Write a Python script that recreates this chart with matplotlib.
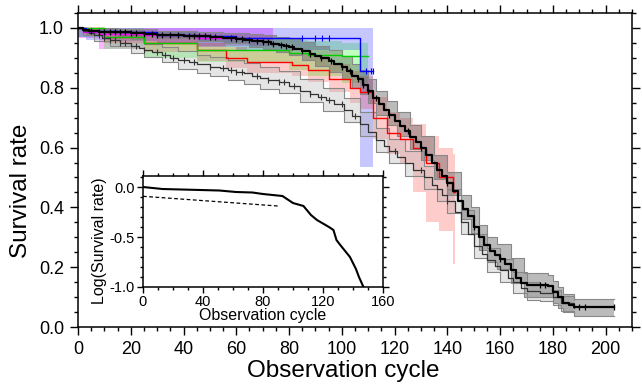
import matplotlib
matplotlib.use('Agg')  # no display
import numpy as np
import matplotlib.pyplot as plt
from matplotlib.ticker import MultipleLocator

plt.rcParams['font.family'] = ['Liberation Sans', 'DejaVu Sans']

# main Kaplan-Meier curve (thick black)
black_t = [0, 2, 4, 8, 12, 16, 20, 25, 30, 35, 40, 45, 50, 55, 60, 63, 66, 70, 73, 76, 78, 80, 82, 85, 88,
           90, 92, 95, 97, 100, 102, 104, 106, 108, 110, 112, 114, 116, 118, 120, 122, 124, 126, 128, 130,
           132, 134, 136, 138, 140, 142, 144, 146, 148, 150, 152, 154, 156, 158, 160, 162, 164, 166, 168,
           170, 178, 180, 182, 184, 186, 188, 203]
black_s = [1.0, .993, .99, .988, .986, .985, .983, .981, .978, .976, .974, .972, .97, .967, .963, .96, .957,
           .953, .948, .943, .939, .935, .93, .922, .912, .905, .898, .89, .88, .868, .855, .84, .828, .81,
           .79, .765, .745, .725, .708, .69, .672, .655, .636, .618, .60, .575, .55, .525, .505, .48, .455,
           .42, .395, .37, .335, .30, .275, .255, .24, .228, .21, .19, .165, .148, .14, .138, .118, .10,
           .08, .072, .068, .067]
# its confidence band
black_bt = [0, 3, 15, 30, 45, 55, 65, 70, 75, 80, 85, 90, 95, 100, 104, 107, 110, 113, 117, 121, 126,
            130, 135, 140, 145, 149, 152, 155, 159, 164, 169, 178, 180, 182, 184, 188, 203]
black_up = [1.0, 1.0, .995, .99, .987, .984, .979, .976, .97, .962, .952, .938, .926, .905, .88, .86, .83,
            .79, .755, .72, .676, .64, .575, .52, .44, .40, .342, .302, .277, .232, .18, .175, .155, .135,
            .11, .095, .094]
black_lo = [1.0, .98, .974, .966, .957, .95, .937, .93, .92, .908, .892, .872, .854, .83, .80, .78, .75,
            .71, .675, .64, .596, .56, .495, .44, .36, .316, .258, .218, .193, .148, .10, .10, .08, .065,
            .05, .038, .036]
black_cens = [5, 8, 10, 12, 14, 16, 18, 20, 22, 25, 28, 30, 32, 35, 38, 42, 44, 46, 48, 50, 52, 58, 60, 62,
              65, 68, 70, 72, 74, 77, 79, 81, 85, 88, 92, 96, 100, 103, 106, 108, 110, 113, 118, 125, 130,
              140, 150, 160, 175, 177, 190, 192, 203]

# lower grey curve
grey_t = [0, 2, 4, 6, 9, 12, 16, 20, 23, 25, 28, 32, 35, 38, 42, 45, 50, 54, 57, 60, 63, 66, 69, 72, 76,
          80, 84, 88, 91, 94, 97, 101, 104, 107, 110, 113, 116, 118, 121, 124, 127, 131, 134, 136, 138,
          140, 143, 145, 148, 150, 153, 155, 158, 160, 163, 165, 168, 170, 175, 180, 183, 188]
grey_s = [1.0, .99, .982, .975, .968, .96, .95, .94, .932, .926, .918, .91, .90, .893, .886, .88, .87,
          .865, .86, .854, .848, .84, .832, .827, .82, .805, .79, .778, .768, .758, .745, .726, .705, .68,
          .652, .625, .605, .59, .57, .548, .525, .50, .475, .46, .44, .42, .385, .35, .31, .27, .245,
          .225, .205, .19, .165, .15, .13, .12, .115, .10, .08, .065]
grey_bt = [0, 2, 6, 12, 20, 25, 32, 38, 45, 50, 57, 63, 69, 76, 84, 93, 101, 107, 113, 118, 124, 131, 136,
           140, 145, 150, 155, 160, 165, 170, 175, 180, 183, 188]
grey_up = [1.0, 1.0, .99, .98, .962, .948, .935, .922, .91, .902, .893, .882, .868, .857, .828, .798, .765,
           .72, .665, .63, .59, .54, .50, .46, .39, .31, .265, .228, .185, .15, .14, .125, .105, .09]
grey_lo = [1.0, .975, .958, .94, .917, .903, .885, .864, .85, .838, .826, .813, .796, .783, .752, .722,
           .687, .64, .585, .55, .506, .46, .42, .38, .31, .23, .185, .152, .115, .09, .088, .075, .055, .04]
grey_cens = [8, 10, 12, 14, 16, 18, 22, 25, 30, 33, 36, 40, 44, 50, 55, 58, 60, 62, 68, 72, 76, 78, 82, 88,
             92, 95, 100, 105, 120, 130, 140]

# coloured subgroups
blue_t = [0, 3, 15, 30, 45, 60, 107, 112]
blue_s = [1.0, .99, .985, .978, .972, .965, .855, .855]
blue_up = [1.0, 1.0, 1.0, 1.0, 1.0, 1.0, 1.0, 1.0]
blue_lo = [.97, .96, .955, .945, .935, .925, .535, .535]
blue_cens = [85, 90, 92.5, 95, 109, 111, 112]

green_t = [0, 10, 25, 45, 80, 87, 100, 110]
green_s = [1.0, .97, .95, .925, .915, .91, .905, .905]
green_up = [1.0, 1.0, .985, .97, .96, .955, .95, .95]
green_lo = [.97, .93, .90, .885, .86, .84, .815, .815]

red_t = [0, 10, 25, 45, 56, 64, 81, 87, 95, 103, 107, 112, 117, 122, 127, 132, 137, 142, 143]
red_s = [1.0, .97, .95, .925, .9, .887, .876, .86, .83, .80, .786, .70, .65, .63, .60, .55, .50, .45, .45]
red_up = [1.0, .99, .97, .95, .935, .925, .915, .905, .88, .855, .84, .77, .72, .70, .68, .64, .60, .58, .58]
red_lo = [1.0, .95, .92, .89, .865, .85, .84, .82, .785, .75, .73, .63, .58, .55, .45, .35, .32, .21, .21]

mag_t = [0, 2, 8, 25, 45, 74]
mag_s = [1.0, .985, .98, .975, .965, .965]
mag_up = [1.0, 1.0, 1.0, 1.0, 1.0, 1.0]
mag_lo = [.965, .965, .93, .95, .94, .94]

# inset: log survival and linear fit of the early part
log_t = [0, 13, 51, 62, 73, 80, 93, 100, 107, 112, 116, 124, 127, 129, 131, 138, 142, 144, 147]
log_s = [0.0, -.02, -.035, -.05, -.055, -.07, -.09, -.16, -.19, -.28, -.33, -.40, -.43, -.53, -.57, -.70,
         -.82, -.90, -1.0]
fit_t = [0, 90]
fit_s = [-.093, -.19]


def step_at(t, s, x):
    idx = np.searchsorted(t, x, side='right') - 1
    return np.asarray(s)[idx]


fig = plt.figure(figsize=(6.42, 3.87), dpi=100)
ax = fig.add_axes([0.1215, 0.155, 0.863, 0.8114])

bands = [(mag_t, mag_lo, mag_up, '#ff00ff', 0.3),
         (green_t, green_lo, green_up, '#00ff00', 0.25),
         (blue_t, blue_lo, blue_up, '#0000ff', 0.22),
         (red_t, red_lo, red_up, '#ff0000', 0.2),
         (grey_bt, grey_lo, grey_up, '#aaaaaa', 0.3),
         (black_bt, black_lo, black_up, '#555555', 0.4)]
for t, lo, up, c, a in bands:
    ax.fill_between(t, lo, up, step='post', color=c, alpha=a, lw=0)

for t, lo, up in [(grey_bt, grey_lo, grey_up), (black_bt, black_lo, black_up)]:
    ax.plot(t, lo, drawstyle='steps-post', color='#888888', lw=0.8)
    ax.plot(t, up, drawstyle='steps-post', color='#888888', lw=0.8)

ax.plot(red_t, red_s, drawstyle='steps-post', color='#ff0000', lw=1)
ax.plot(green_t, green_s, drawstyle='steps-post', color='#00cc00', lw=1)
ax.plot(mag_t, mag_s, drawstyle='steps-post', color='#ff00ff', lw=1)
ax.plot(blue_t, blue_s, drawstyle='steps-post', color='#0000ff', lw=1)
ax.plot(blue_cens, step_at(blue_t, blue_s, blue_cens), ls='none', marker='|', ms=4, mew=0.8, color='#0000ff')
ax.plot(grey_t, grey_s, drawstyle='steps-post', color='#333333', lw=0.9)
ax.plot(grey_cens, step_at(grey_t, grey_s, grey_cens), ls='none', marker='|', ms=4, mew=0.8, color='#333333')
ax.plot(black_t, black_s, drawstyle='steps-post', color='black', lw=1.6)
ax.plot(black_cens, step_at(black_t, black_s, black_cens), ls='none', marker='|', ms=4, mew=0.9, color='black')

ax.set_xlim(0, 210)
ax.set_ylim(0, 1.05)
ax.xaxis.set_major_locator(MultipleLocator(20))
ax.xaxis.set_minor_locator(MultipleLocator(5))
ax.yaxis.set_major_locator(MultipleLocator(0.2))
ax.yaxis.set_minor_locator(MultipleLocator(0.05))
ax.yaxis.set_major_formatter(plt.FuncFormatter(lambda v, p: '%.1f' % v))
ax.tick_params(which='both', direction='out', top=True, right=True, width=1)
ax.tick_params(which='major', length=6, labelsize=13, pad=4)
ax.tick_params(which='minor', length=3)
for sp in ax.spines.values():
    sp.set_linewidth(1.1)
ax.set_xlabel('Observation cycle', fontsize=17.5)
ax.set_ylabel('Survival rate', fontsize=17.5)
ax.xaxis.set_label_coords(0.478, -0.105)
ax.yaxis.set_label_coords(-0.083, 0.435)

# inset
ins = fig.add_axes([0.2227, 0.2584, 0.3738, 0.2868])
ins.plot(log_t, log_s, color='black', lw=1.5)
ins.plot(fit_t, fit_s, color='black', lw=0.9, ls='--', dashes=(3, 2))
ins.set_xlim(0, 160)
ins.set_ylim(-1.0, 0.11)
ins.xaxis.set_major_locator(MultipleLocator(40))
ins.xaxis.set_minor_locator(MultipleLocator(10))
ins.yaxis.set_major_locator(MultipleLocator(0.5))
ins.yaxis.set_minor_locator(MultipleLocator(0.1))
ins.yaxis.set_major_formatter(plt.FuncFormatter(lambda v, p: '%.1f' % v))
ins.tick_params(which='both', direction='out', top=True, right=True, width=1)
ins.tick_params(which='major', length=4, labelsize=10.5, pad=2)
ins.tick_params(which='minor', length=2)
for sp in ins.spines.values():
    sp.set_linewidth(1.1)
ins.set_xlabel('Observation cycle', fontsize=11.5, labelpad=-1)
ins.set_ylabel('Log(Survival rate)', fontsize=11.5)
ins.yaxis.set_label_coords(-0.15, 0.42)

fig.savefig('out.png', dpi=100)
